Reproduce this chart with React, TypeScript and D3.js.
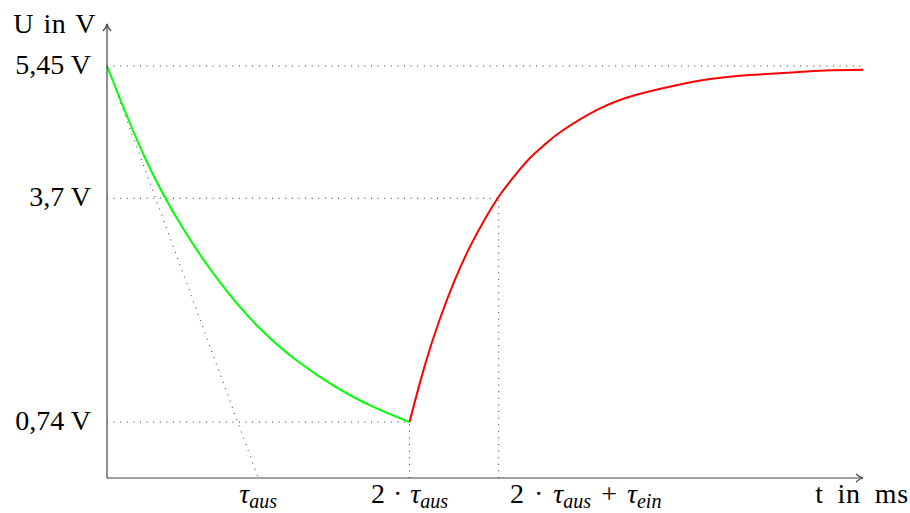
import React from "react";
import * as d3 from "d3";

// time in units of tau_aus, voltage in V
const yTicks = [0.74, 3.7, 5.45];
const yTickLabels = ["0,74 V", "3,7 V", "5,45 V"];
const xTicks = [1, 2, 2.59];

// discharge (green)
const dischargeT = [0, 0.25, 0.5, 0.75, 1.0, 1.25, 1.5, 1.75, 2.0];
const dischargeU = [5.45, 4.24, 3.31, 2.58, 2.0, 1.56, 1.22, 0.95, 0.74];

// charge (red)
const chargeT = [2.0, 2.1, 2.2, 2.3, 2.4, 2.5, 2.6, 2.7, 2.8, 2.9, 3.0, 3.25, 3.5, 3.75, 4.0, 4.25, 4.5, 4.75, 5.0];
const chargeU = [0.74, 1.48, 2.1, 2.62, 3.06, 3.43, 3.75, 4.01, 4.24, 4.42, 4.58, 4.88, 5.07, 5.19, 5.28, 5.33, 5.36, 5.39, 5.4];

// tangent at t=0
const tangentT = [0, 1];
const tangentU = [5.45, 0];

// helper lines: horizontal from y axis to t, vertical from x axis to U
const hGuideEnds = [2.0, 2.59, 5.0];
const vGuideT = [2.0, 2.59];
const vGuideU = [0.74, 3.7];

const W = 910;
const H = 513;
const FONT = "'Liberation Serif', 'Times New Roman', serif";

const x = d3.scaleLinear().domain([0, 2]).range([107, 409.5]);
const y = d3.scaleLinear().domain([0, 5.45]).range([478, 66]);

const line = d3
  .line<[number, number]>()
  .x((d) => x(d[0]))
  .y((d) => y(d[1]))
  .curve(d3.curveNatural);

const straight = d3
  .line<[number, number]>()
  .x((d) => x(d[0]))
  .y((d) => y(d[1]));

const zip = (a: number[], b: number[]) => a.map((v, i) => [v, b[i]] as [number, number]);

const arrowHead = "M-7,-4 C-4.5,-1.6 -1.8,-0.4 0,0 C-1.8,0.4 -4.5,1.6 -7,4";
const dotted = { stroke: "#333", strokeWidth: 1, strokeDasharray: "1 5.6", fill: "none" };

function Tau({ sub }: { sub: string }) {
  return (
    <>
      <tspan fontStyle="italic">τ</tspan>
      <tspan fontStyle="italic" fontSize={20} dy={5}>
        {sub}
      </tspan>
    </>
  );
}

export default function App() {
  const x0 = x(0);
  const y0 = y(0);
  const xEnd = 863;
  const yEnd = 24;

  return (
    <svg
      width={W}
      height={H}
      style={{ position: "absolute", left: 0, top: 0, background: "#fff" }}
      fontFamily={FONT}
    >
      {/* helper lines */}
      {yTicks.map((v, i) => (
        <line key={"h" + i} x1={x0} x2={x(hGuideEnds[i])} y1={y(v)} y2={y(v)} {...dotted} />
      ))}
      {vGuideT.map((t, i) => (
        <line key={"v" + i} x1={x(t)} x2={x(t)} y1={y0} y2={y(vGuideU[i])} {...dotted} />
      ))}
      <path d={straight(zip(tangentT, tangentU)) || ""} {...dotted} />

      {/* curves */}
      <path d={line(zip(dischargeT, dischargeU)) || ""} stroke="#00ff00" strokeWidth={2} fill="none" />
      <path d={line(zip(chargeT, chargeU)) || ""} stroke="#ff0000" strokeWidth={2} fill="none" />

      {/* axes */}
      <g stroke="#444" strokeWidth={1.2} fill="none">
        <line x1={x0} x2={xEnd} y1={y0} y2={y0} />
        <path d={arrowHead} transform={`translate(${xEnd},${y0})`} />
        <line x1={x0} x2={x0} y1={y0} y2={yEnd} />
        <path d={arrowHead} transform={`translate(${x0},${yEnd}) rotate(-90)`} />
      </g>

      {/* y tick labels */}
      <g fontSize={28} textAnchor="end" fill="#000">
        {yTicks.map((v, i) => (
          <text key={i} x={91} y={y(v) + 8}>
            {yTickLabels[i]}
          </text>
        ))}
        <text x={96} y={33} wordSpacing={2} letterSpacing={0.5}>
          U in V
        </text>
      </g>

      {/* x tick labels */}
      <g fontSize={28} fill="#000">
        <text x={x(xTicks[0])} y={503} textAnchor="middle">
          <Tau sub="aus" />
        </text>
        <text x={x(xTicks[1])} y={503} textAnchor="middle" wordSpacing={1}>
          2 · <Tau sub="aus" />
        </text>
        <text x={510} y={503} textAnchor="start" wordSpacing={3}>
          2 · <Tau sub="aus" />
          <tspan dy={-5}> + </tspan>
          <Tau sub="ein" />
        </text>
        <text x={909} y={503} textAnchor="end" wordSpacing={6} letterSpacing={0.8}>
          t in ms
        </text>
      </g>
    </svg>
  );
}
